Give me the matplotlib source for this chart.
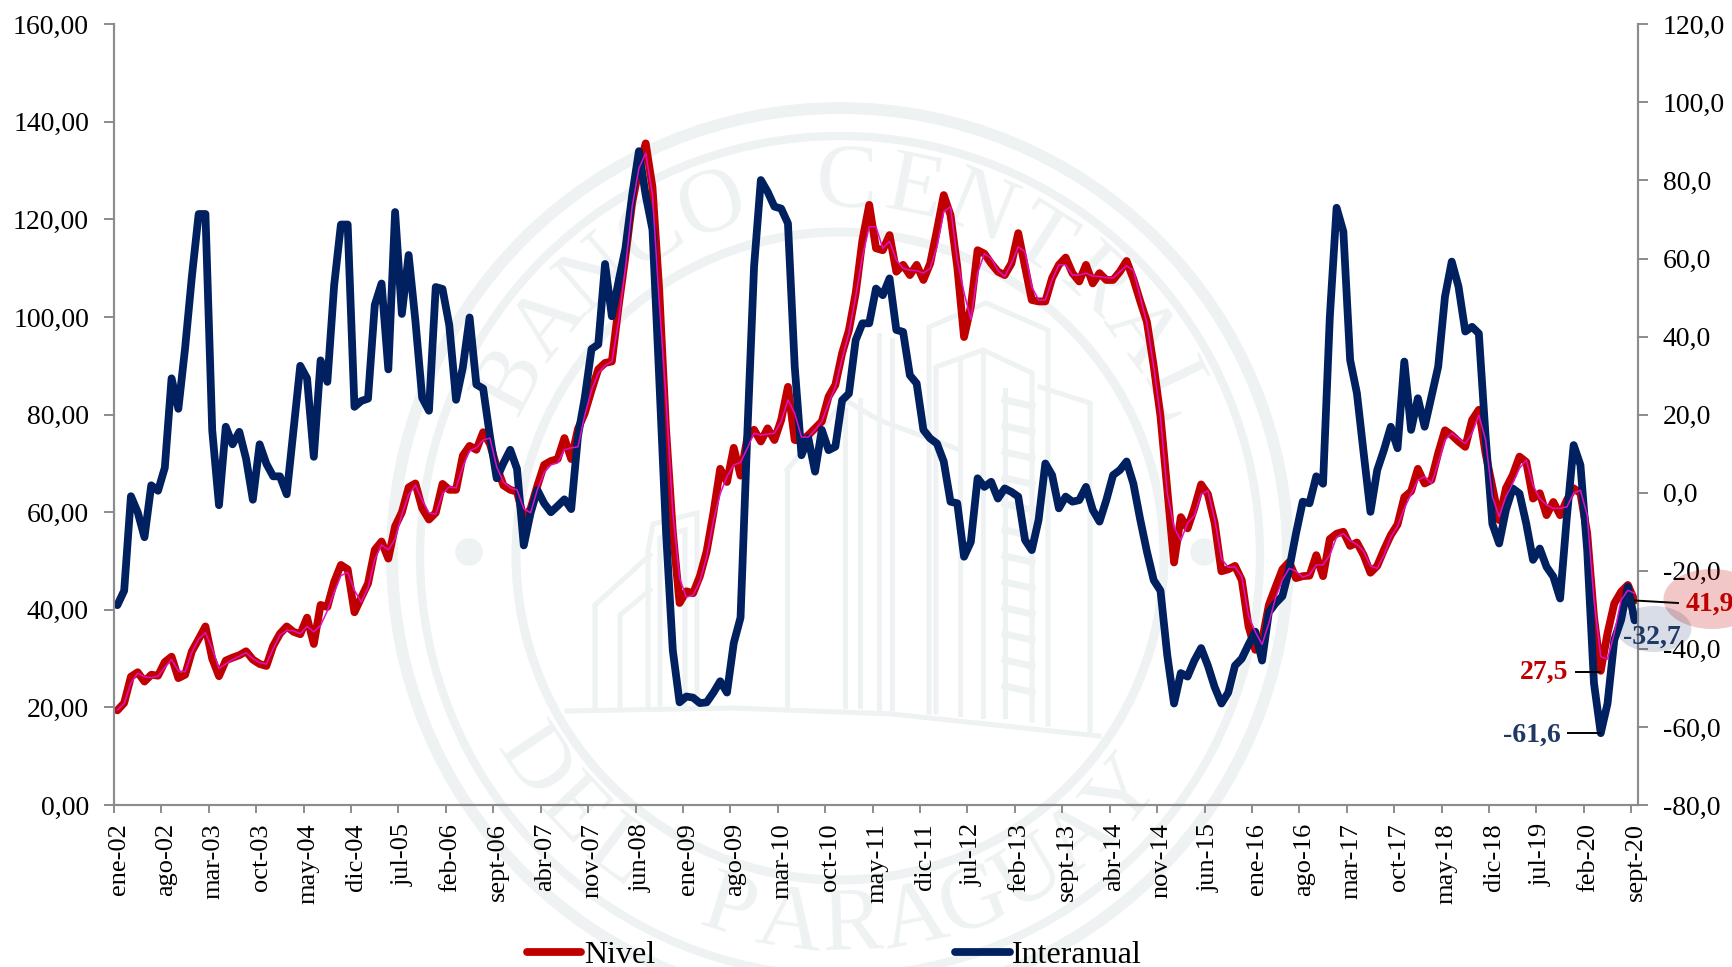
import numpy as np
import matplotlib
matplotlib.use('Agg')
import matplotlib.pyplot as plt
from matplotlib.patches import Circle, Ellipse
from matplotlib.ticker import FuncFormatter

plt.rcParams['font.family'] = ['Liberation Serif', 'DejaVu Serif']

# serie mensual ene-02 a sept-20
nivel = [
    19.4, 20.9, 26.3, 27.2, 25.3, 26.7, 26.5, 29.3, 30.4, 26.0,
    26.7, 31.5, 34.0, 36.6, 30.0, 26.4, 29.6, 30.2, 30.7, 31.5,
    29.8, 28.9, 28.5, 32.6, 35.1, 36.6, 35.5, 35.0, 38.4, 33.0,
    41.0, 40.6, 45.7, 49.2, 48.3, 39.5, 42.5, 45.4, 52.3, 54.0,
    50.5, 57.1, 60.0, 65.1, 65.9, 60.8, 58.5, 59.9, 65.8, 64.6,
    64.6, 71.6, 73.6, 72.8, 76.4, 74.0, 69.3, 65.5, 64.6, 64.2,
    58.7, 60.7, 65.4, 69.7, 70.5, 70.9, 75.2, 70.9, 77.1, 80.3,
    85.0, 89.3, 90.6, 90.9, 102.2, 112.4, 123.4, 130.5, 135.6, 126.6,
    105.4, 77.1, 56.0, 41.4, 43.8, 43.4, 46.9, 52.0, 59.9, 68.9,
    66.2, 73.2, 67.5, 75.2, 76.9, 74.5, 77.2, 74.8, 78.9, 85.7,
    74.8, 74.7, 75.8, 77.2, 78.6, 83.7, 86.1, 92.6, 97.3, 104.9,
    115.8, 123.0, 114.1, 113.7, 116.8, 109.3, 110.7, 108.6, 110.7, 107.6,
    111.0, 117.8, 125.0, 120.9, 110.3, 95.9, 102.1, 113.7, 113.0, 111.0,
    109.3, 108.6, 111.0, 117.2, 110.3, 103.5, 103.2, 103.2, 108.0, 110.7,
    112.2, 109.0, 107.3, 110.7, 106.9, 109.0, 107.6, 107.6, 109.3, 111.5,
    107.8, 103.3, 99.0, 90.0, 79.7, 64.8, 49.7, 59.0, 56.7, 60.8,
    65.7, 63.7, 57.8, 47.9, 48.3, 49.0, 46.1, 36.6, 31.8, 33.7,
    41.0, 44.7, 48.3, 49.8, 46.5, 46.9, 47.0, 51.2, 46.9, 54.5,
    55.6, 56.0, 53.1, 53.8, 51.2, 47.6, 49.0, 52.3, 55.3, 57.5,
    63.1, 64.3, 68.9, 65.9, 66.6, 72.1, 76.8, 75.8, 74.5, 73.4,
    78.9, 81.0, 72.0, 65.2, 58.4, 64.9, 67.6, 71.4, 70.3, 62.8,
    63.9, 59.4, 62.1, 59.4, 62.5, 64.9, 63.9, 55.7, 38.6, 27.5,
    35.2, 41.3, 43.7, 45.1, 41.9,
]

# linea fina magenta sobre el nivel
tendencia = [
    19.5, 20.8, 25.0, 27.0, 26.3, 26.1, 26.4, 28.2, 29.8, 27.5,
    27.3, 31.3, 34.0, 35.3, 32.0, 28.0, 28.9, 29.8, 30.5, 31.2,
    30.0, 29.2, 28.9, 32.0, 34.8, 35.8, 35.7, 35.1, 36.6, 35.5,
    36.8, 39.8, 43.5, 47.0, 47.7, 44.0, 41.6, 44.5, 50.3, 53.3,
    52.3, 54.5, 59.5, 63.6, 65.5, 62.5, 59.9, 59.6, 63.8, 65.2,
    65.0, 69.3, 72.6, 73.2, 74.8, 75.2, 69.3, 66.2, 65.0, 64.6,
    60.7, 59.9, 64.6, 68.1, 69.7, 70.1, 72.8, 73.2, 73.4, 79.9,
    85.0, 88.5, 90.1, 90.9, 99.1, 110.1, 122.6, 130.5, 133.6, 125.0,
    103.0, 83.4, 59.9, 46.5, 42.6, 43.0, 45.8, 50.9, 58.3, 63.8,
    67.3, 69.7, 70.2, 73.1, 76.2, 75.8, 76.0, 76.2, 78.6, 83.0,
    80.3, 75.4, 75.4, 76.9, 78.6, 82.3, 85.7, 91.5, 96.7, 104.2,
    112.4, 118.5, 118.5, 114.1, 115.5, 111.7, 110.0, 109.6, 109.5, 109.0,
    110.0, 114.4, 121.6, 122.6, 111.7, 105.0, 99.5, 109.0, 113.0, 112.0,
    109.6, 108.3, 111.0, 114.4, 113.4, 106.2, 103.5, 103.5, 107.6, 110.7,
    110.7, 108.6, 108.6, 109.0, 108.4, 108.3, 108.1, 108.0, 109.3, 110.5,
    109.6, 104.2, 98.7, 89.8, 79.6, 63.9, 57.0, 54.2, 57.8, 59.3,
    63.7, 64.4, 58.6, 50.5, 48.7, 48.8, 46.8, 38.8, 35.5, 32.9,
    37.3, 42.5, 46.1, 48.5, 47.9, 46.7, 47.2, 49.2, 49.2, 51.2,
    54.9, 55.6, 54.2, 53.4, 52.0, 49.0, 48.5, 51.2, 54.9, 57.1,
    60.8, 63.7, 66.6, 67.3, 65.9, 70.0, 74.8, 76.2, 75.1, 74.1,
    76.2, 79.9, 74.8, 63.2, 59.1, 63.2, 65.9, 69.0, 70.7, 65.5,
    62.8, 61.5, 60.8, 60.8, 61.1, 63.9, 64.5, 59.4, 42.0, 30.4,
    29.9, 35.2, 42.0, 44.0, 43.4,
]

interanual = [
    -28.8, -25.1, -0.9, -5.0, -11.4, 1.9, 0.5, 6.4, 29.3, 21.5,
    37.1, 55.4, 71.4, 71.4, 16.0, -3.2, 16.9, 12.4, 15.6, 8.7,
    -1.8, 12.4, 7.4, 4.2, 4.2, -0.4, 16.0, 32.5, 29.3, 9.2,
    33.9, 28.4, 53.1, 68.7, 68.7, 22.0, 23.5, 24.1, 48.1, 53.6,
    31.6, 71.9, 45.8, 60.9, 44.0, 24.3, 21.0, 52.7, 52.2, 42.9,
    23.8, 32.1, 44.9, 27.7, 26.7, 14.5, 3.7, 7.6, 11.0, 6.1,
    -13.5, -5.2, 0.7, -2.7, -5.0, -3.4, -1.7, -4.2, 14.5, 24.3,
    36.8, 38.0, 58.6, 45.2, 54.2, 62.5, 76.2, 87.5, 76.2, 67.4,
    29.2, -10.0, -40.4, -53.7, -52.2, -52.5, -53.9, -53.7, -51.2, -48.3,
    -51.2, -38.5, -32.0, 15.0, 58.0, 80.1, 77.1, 73.3, 72.8, 69.0,
    32.3, 9.6, 14.0, 5.4, 16.1, 10.9, 11.8, 23.7, 25.4, 39.1,
    43.4, 43.4, 52.3, 50.6, 54.9, 41.7, 41.2, 30.1, 28.0, 16.1,
    13.9, 12.6, 8.0, -2.3, -2.7, -16.4, -12.6, 3.7, 1.5, 2.8,
    -1.5, 1.1, 0.2, -1.0, -12.1, -14.7, -7.0, 7.5, 4.5, -4.0,
    -1.0, -2.3, -1.9, 1.5, -4.4, -7.4, -1.9, 4.5, 5.8, 8.0,
    2.3, -6.8, -15.1, -22.4, -25.1, -41.6, -54.0, -46.2, -47.1, -43.0,
    -39.8, -44.3, -49.8, -54.0, -51.2, -44.3, -42.5, -38.9, -35.6, -43.0,
    -30.6, -28.3, -26.5, -19.6, -10.5, -2.3, -2.7, 4.2, 2.3, 45.0,
    73.0, 66.9, 34.0, 25.5, 10.1, -4.9, 5.8, 11.0, 16.9, 11.4,
    33.6, 16.1, 24.2, 16.9, 24.6, 32.3, 50.2, 59.2, 52.8, 41.3,
    42.5, 40.8, 14.4, -8.0, -13.0, -4.4, 1.1, -0.2, -7.9, -17.2,
    -14.3, -19.0, -21.5, -27.1, -6.1, 12.2, 7.1, -14.7, -48.8, -61.6,
    -54.0, -37.7, -32.6, -24.1, -32.7,
]

etiquetas = [
    'ene-02', 'ago-02', 'mar-03', 'oct-03', 'may-04', 'dic-04', 'jul-05',
    'feb-06', 'sept-06', 'abr-07', 'nov-07', 'jun-08', 'ene-09', 'ago-09',
    'mar-10', 'oct-10', 'may-11', 'dic-11', 'jul-12', 'feb-13', 'sept-13',
    'abr-14', 'nov-14', 'jun-15', 'ene-16', 'ago-16', 'mar-17', 'oct-17',
    'may-18', 'dic-18', 'jul-19', 'feb-20', 'sept-20',
]

ROJO = '#C00000'
AZUL = '#002060'
MAGENTA = '#E010C8'
GRIS = '#8C8C8C'
SELLO = '#EEF2F2'
ANCHO, ALTO = 1733, 967


def coma(v, _pos, dec):
    return f'{v:.{dec}f}'.replace('.', ',')


def dibujar_sello(bg):
    """marca de agua del banco, en coordenadas de pixel"""
    cx, cy = 840, 556
    for r, lw in [(448, 8.5), (420, 6), (324, 6.5)]:
        bg.add_patch(Circle((cx, cy), r, fill=False, ec=SELLO, lw=lw))
    for x in (469, 1204):
        bg.add_patch(Circle((x, 552), 13, color=SELLO))

    arriba = 'BANCO CENTRAL'
    for k, ang in zip(arriba, np.linspace(152, 26, len(arriba))):
        t = np.radians(ang)
        bg.text(cx + 372 * np.cos(t), cy - 372 * np.sin(t), k, color=SELLO,
                fontsize=66, rotation=ang - 90, ha='center', va='center',
                rotation_mode='anchor')
    abajo = 'DEL PARAGUAY'
    for k, ang in zip(abajo, np.linspace(-146, -40, len(abajo))):
        t = np.radians(ang)
        bg.text(cx + 372 * np.cos(t), cy - 372 * np.sin(t), k, color=SELLO,
                fontsize=66, rotation=ang + 90, ha='center', va='center',
                rotation_mode='anchor')

    # edificios, trazo simplificado
    trazos = [
        [(567, 711), (733, 708), (892, 714), (1099, 736)],
        [(595, 708), (595, 605), (650, 555)],
        [(620, 708), (620, 615), (650, 590)],
        [(648, 708), (648, 551), (653, 524), (697, 513), (697, 704)],
        [(660, 704), (660, 538), (685, 530), (685, 704)],
        [(787, 706), (787, 470)],
        [(787, 470), (845, 400), (879, 420), (960, 450)],
        [(845, 706), (845, 410)],
        [(860, 706), (860, 400)],
        [(879, 708), (879, 335)],
        [(892, 708), (892, 340)],
        [(929, 712), (929, 327), (986, 303), (1048, 330), (1048, 724)],
        [(936, 712), (936, 367), (983, 350), (1032, 373), (1032, 720)],
        [(960, 714), (960, 360)],
        [(983, 716), (983, 350)],
        [(1040, 387), (1090, 403), (1090, 732)],
        [(1005, 390), (1005, 716)],
    ]
    for tr in trazos:
        xs, ys = zip(*tr)
        bg.plot(xs, ys, color=SELLO, lw=3.6, solid_joinstyle='miter')
    for y in range(400, 710, 26):
        bg.plot([1005, 1032], [y, y + 6], color=SELLO, lw=5)


def main():
    fig = plt.figure(figsize=(ANCHO / 100, ALTO / 100), dpi=100)

    bg = fig.add_axes([0, 0, 1, 1], zorder=0)
    bg.set_xlim(0, ANCHO)
    bg.set_ylim(ALTO, 0)
    bg.axis('off')
    dibujar_sello(bg)

    izq, der, arr, aba = 114, 1638, 24.3, 805
    rect = [izq / ANCHO, 1 - aba / ALTO, (der - izq) / ANCHO, (aba - arr) / ALTO]
    ax = fig.add_axes(rect, zorder=1)
    ax.patch.set_alpha(0)

    n = len(nivel)
    x = np.arange(n) + 0.5

    linea_niv, = ax.plot(x, nivel, color=ROJO, lw=5.6, solid_joinstyle='round',
                         solid_capstyle='round', label='Nivel')
    ax.set_xlim(0, n)
    ax.set_ylim(0, 160)
    ax.set_yticks(np.arange(0, 161, 20))
    ax.yaxis.set_major_formatter(FuncFormatter(lambda v, p: coma(v, p, 2)))

    ax2 = ax.twinx()
    linea_int, = ax2.plot(x, interanual, color=AZUL, lw=5.6, solid_joinstyle='round',
                          solid_capstyle='round', label='Interanual')
    ax2.set_ylim(-80, 120)
    ax2.set_yticks(np.arange(-80, 121, 20))
    ax2.yaxis.set_major_formatter(FuncFormatter(lambda v, p: coma(v, p, 1)))

    # la linea fina va encima de las dos
    ax3 = ax.twinx()
    ax3.plot(x, tendencia, color=MAGENTA, lw=1.1)
    ax3.set_ylim(0, 160)
    ax3.axis('off')

    # marcas entre categorias, etiqueta en la primera de cada tramo
    marcas = np.arange(0, n, 7)
    ax.set_xticks(marcas, minor=True)
    ax.set_xticks(marcas + 0.7)
    ax.set_xticklabels(etiquetas, rotation=90, ha='center', va='top', fontsize=19)
    ax.tick_params(axis='x', which='major', length=0, pad=13)
    ax.tick_params(axis='x', which='minor', length=6, width=1.4, color=GRIS)
    ax.tick_params(axis='y', length=7, width=1.4, color=GRIS, labelsize=20, pad=11)
    ax2.tick_params(axis='y', length=7, width=1.4, color=GRIS, labelsize=20, pad=11)

    for a in (ax, ax2):
        a.spines['top'].set_visible(False)
        for lado in ('left', 'right', 'bottom'):
            a.spines[lado].set_color(GRIS)
            a.spines[lado].set_linewidth(1.5)

    fig.legend(handles=[linea_niv, linea_int], loc='center left',
               bbox_to_anchor=(527 / ANCHO, 1 - 955 / ALTO), ncol=2, frameon=False,
               fontsize=23, handlelength=1.7, handletextpad=0.08, columnspacing=9.4,
               borderpad=0, borderaxespad=0)

    # rotulos de los ultimos datos
    fg = fig.add_axes([0, 0, 1, 1], zorder=5)
    fg.set_xlim(0, ANCHO)
    fg.set_ylim(ALTO, 0)
    fg.axis('off')
    fg.add_patch(Ellipse((1712, 599), 97, 60, color=ROJO, alpha=0.22, lw=0))
    fg.add_patch(Ellipse((1654, 629), 75, 46, color=AZUL, alpha=0.15, lw=0))
    fg.plot([1576, 1600], [672, 672], color='black', lw=1.4)
    fg.plot([1568, 1600], [733, 733], color='black', lw=1.4)
    fg.plot([1635, 1678], [600.5, 603], color='black', lw=1.4)
    fg.text(1568, 672, '27,5', color=ROJO, fontsize=20, ha='right', va='center', fontweight='bold')
    fg.text(1561, 735, '-61,6', color='#1F3864', fontsize=20, ha='right', va='center', fontweight='bold')
    fg.text(1623, 637, '-32,7', color='#1F3864', fontsize=20, ha='left', va='center', fontweight='bold')
    fg.text(1686, 604, '41,9', color=ROJO, fontsize=20, ha='left', va='center', fontweight='bold')

    fig.savefig('out.png', dpi=100)
    plt.close(fig)


if __name__ == '__main__':
    main()
